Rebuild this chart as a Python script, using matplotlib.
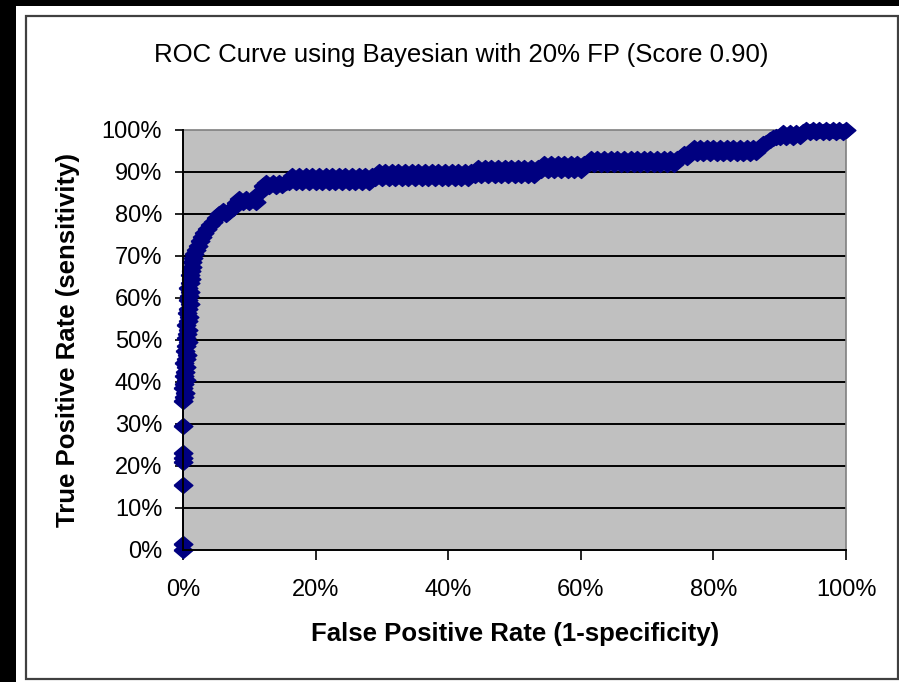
import matplotlib
matplotlib.use('Agg')
import matplotlib.pyplot as plt
from matplotlib.patches import Rectangle

# ROC points (percent)
# near-vertical part at FPR ~ 0
fpr_low = [0, 0, 0, 0, 0, 0, 0, 0, 0.1, 0.3, 0, 0.2, 0.4, 0.1, 0.3, 0.5, 0.2, 0.4,
           0.6, 0.3, 0.5, 0.7, 0.4, 0.6, 0.8, 0.5, 0.7, 0.9, 0.6, 0.8, 1.0, 0.7,
           0.9, 1.1, 0.8, 1.0, 1.2, 1.0, 1.2, 1.3]
tpr_low = [0, 1.5, 15.5, 21, 22, 23, 29.5, 35.5, 36.5, 37.5, 38.5, 39.5, 40.5,
           41.5, 42.5, 43.5, 44.5, 45.5, 46.5, 47.5, 48.5, 49.5, 50.5, 51.5, 52.5,
           53.5, 54.5, 55.5, 56.5, 57.5, 58.5, 59.5, 60.5, 61.5, 62.5, 63.5, 64.5,
           65.5, 66.5, 67.5]

# the bend
fpr_bend = [1.4, 1.5, 1.7, 1.9, 2.2, 2.5, 2.8, 3.2, 3.6, 4.0, 4.5, 5.0, 5.5, 6.0,
            6.5, 7.0, 7.5, 8.0, 8.5, 9.0, 9.5, 10.0, 10.5, 11.0, 11.5, 12.0,
            12.5, 13.0, 13.5, 14.0, 14.5, 15.0, 15.5]
tpr_bend = [68.5, 69.5, 70.5, 71.5, 72.5, 73.5, 74.5, 75.5, 76.5, 77.3, 78.2,
            79.0, 80.0, 80.6, 80.0, 80.6, 81.5, 82.7, 83.6, 82.9, 83.6, 82.9,
            83.6, 82.9, 85.0, 86.6, 87.4, 86.6, 87.4, 86.6, 87.4, 86.8, 87.6]

# long flat part, in steps
fpr_flat = [16.0, 16.5, 17.0, 17.5, 18.0, 18.5, 19.0, 19.5, 20.0, 20.5, 21.0,
            21.5, 22.0, 22.5, 23.0, 23.5, 24.0, 24.5, 25.0, 25.5, 26.0, 26.5,
            27.0, 27.5, 28.0, 28.5,
            29.0, 29.5, 30.0, 30.5, 31.0, 31.5, 32.0, 32.5, 33.0, 33.5, 34.0,
            34.5, 35.0, 35.5, 36.0, 36.5, 37.0, 37.5, 38.0, 38.5, 39.0, 39.5,
            40.0, 40.5, 41.0, 41.5, 42.0, 42.5, 43.0, 43.5,
            44.0, 44.5, 45.0, 45.5, 46.0, 46.5, 47.0, 47.5, 48.0, 48.5, 49.0,
            49.5, 50.0, 50.5, 51.0, 51.5, 52.0, 52.5, 53.0, 53.5,
            54.0, 54.5, 55.0, 55.5, 56.0, 56.5, 57.0, 57.5, 58.0, 58.5, 59.0,
            59.5, 60.0, 60.5,
            61.0, 61.5, 62.0, 62.5, 63.0, 63.5, 64.0, 64.5, 65.0, 65.5, 66.0,
            66.5, 67.0, 67.5, 68.0, 68.5, 69.0, 69.5, 70.0, 70.5, 71.0, 71.5,
            72.0, 72.5, 73.0, 73.5, 74.0, 74.5]
tpr_flat = [87.6, 89.0, 87.6, 89.0, 87.6, 89.0, 87.6, 89.0, 87.6, 89.0, 87.6,
            89.0, 87.6, 89.0, 87.6, 89.0, 87.6, 89.0, 87.6, 89.0, 87.6, 89.0,
            87.6, 89.0, 87.6, 89.0,
            88.6, 90.0, 88.6, 90.0, 88.6, 90.0, 88.6, 90.0, 88.6, 90.0, 88.6,
            90.0, 88.6, 90.0, 88.6, 90.0, 88.6, 90.0, 88.6, 90.0, 88.6, 90.0,
            88.6, 90.0, 88.6, 90.0, 88.6, 90.0, 88.6, 90.0,
            89.3, 90.9, 89.3, 90.9, 89.3, 90.9, 89.3, 90.9, 89.3, 90.9, 89.3,
            90.9, 89.3, 90.9, 89.3, 90.9, 89.3, 90.9, 89.3, 90.9,
            90.5, 91.9, 90.5, 91.9, 90.5, 91.9, 90.5, 91.9, 90.5, 91.9, 90.5,
            91.9, 90.5, 91.9,
            92.0, 93.0, 92.0, 93.0, 92.0, 93.0, 92.0, 93.0, 92.0, 93.0, 92.0,
            93.0, 92.0, 93.0, 92.0, 93.0, 92.0, 93.0, 92.0, 93.0, 92.0, 93.0,
            92.0, 93.0, 92.0, 93.0, 92.0, 93.0]

# top right
fpr_top = [75.0, 75.5, 76.0,
           76.5, 77.0, 77.5, 78.0, 78.5, 79.0, 79.5, 80.0, 80.5, 81.0, 81.5,
           82.0, 82.5, 83.0, 83.5, 84.0, 84.5, 85.0, 85.5, 86.0, 86.5,
           87.0, 87.5, 88.0, 88.5, 89.0, 89.5,
           90.0, 90.5, 91.0, 91.5, 92.0, 92.5, 93.0,
           93.5, 94.0, 94.5, 95.0, 95.5, 96.0, 96.5, 97.0, 97.5, 98.0, 98.5,
           99.0, 99.5, 100.0]
tpr_top = [93.3, 94.3, 93.5,
           94.5, 95.8, 94.5, 95.8, 94.5, 95.8, 94.5, 95.8, 94.5, 95.8, 94.5,
           95.8, 94.5, 95.8, 94.5, 95.8, 94.5, 95.8, 94.5, 95.8, 94.8,
           96.0, 96.6, 97.0, 97.6, 98.0, 98.3,
           98.4, 99.2, 98.4, 99.2, 98.4, 99.2, 98.6,
           99.5, 100.0, 99.5, 100.0, 99.5, 100.0, 99.5, 100.0, 99.5, 100.0,
           99.5, 100.0, 99.5, 100.0]

fpr = fpr_low + fpr_bend + fpr_flat + fpr_top
tpr = tpr_low + tpr_bend + tpr_flat + tpr_top

x_ticks = [0, 20, 40, 60, 80, 100]
y_ticks = [0, 10, 20, 30, 40, 50, 60, 70, 80, 90, 100]

plt.rcParams['font.family'] = ['Liberation Sans', 'DejaVu Sans']

W, H = 899, 682
fig = plt.figure(figsize=(W / 100, H / 100), dpi=100, facecolor='black')

# white chart area with its thin frame
fig.patches.append(Rectangle((16 / W, 0), 1 - 16 / W, 676 / H,
                             transform=fig.transFigure, facecolor='white',
                             edgecolor='none', zorder=0))
fig.patches.append(Rectangle((26 / W, 1 - 679 / H), (898 - 26) / W, (679 - 16) / H,
                             transform=fig.transFigure, facecolor='none',
                             edgecolor='#404040', lw=1.6, zorder=1))

ax = fig.add_axes([183 / W, 1 - 550 / H, 663 / W, 420 / H])
ax.set_zorder(2)
ax.set_facecolor('#c0c0c0')

# horizontal gridlines
for v in y_ticks[1:-1]:
    ax.axhline(v, color='black', lw=1.4, zorder=1)

# slightly flattened diamond, like the Excel marker
diamond = [(-1, 0), (0, 0.85), (1, 0), (0, -0.85), (-1, 0)]
ax.plot(fpr, tpr, color='#000080', lw=1.2, marker=diamond, markersize=13.5,
        markerfacecolor='#000080', markeredgecolor='#000080', clip_on=False,
        zorder=3)

ax.set_xlim(0, 100)
ax.set_ylim(0, 100)
ax.set_xticks(x_ticks)
ax.set_yticks(y_ticks)
ax.set_xticklabels([str(t) + '%' for t in x_ticks])
ax.set_yticklabels([str(t) + '%' for t in y_ticks])
ax.tick_params(axis='y', direction='out', length=6, width=1.2, pad=9,
               labelsize=17, colors='black')
ax.tick_params(axis='x', direction='out', length=7, width=1.2, pad=14,
               labelsize=17, colors='black')

for s in ['top', 'right']:
    ax.spines[s].set_color('#808080')
    ax.spines[s].set_linewidth(1.2)
for s in ['left', 'bottom']:
    ax.spines[s].set_color('black')
    ax.spines[s].set_linewidth(1.4)
    ax.spines[s].set_zorder(4)

fig.text(461 / W, 1 - 55 / H, 'ROC Curve using Bayesian with 20% FP (Score 0.90)',
         ha='center', va='center', fontsize=18.5)
fig.text(515 / W, 1 - 634 / H, 'False Positive Rate (1-specificity)',
         ha='center', va='center', fontsize=18.5, fontweight='bold')
fig.text(68 / W, 1 - 340 / H, 'True Positive Rate (sensitivity)',
         ha='center', va='center', rotation=90, fontsize=18.5, fontweight='bold')

plt.savefig('out.png', dpi=100, facecolor=fig.get_facecolor())
